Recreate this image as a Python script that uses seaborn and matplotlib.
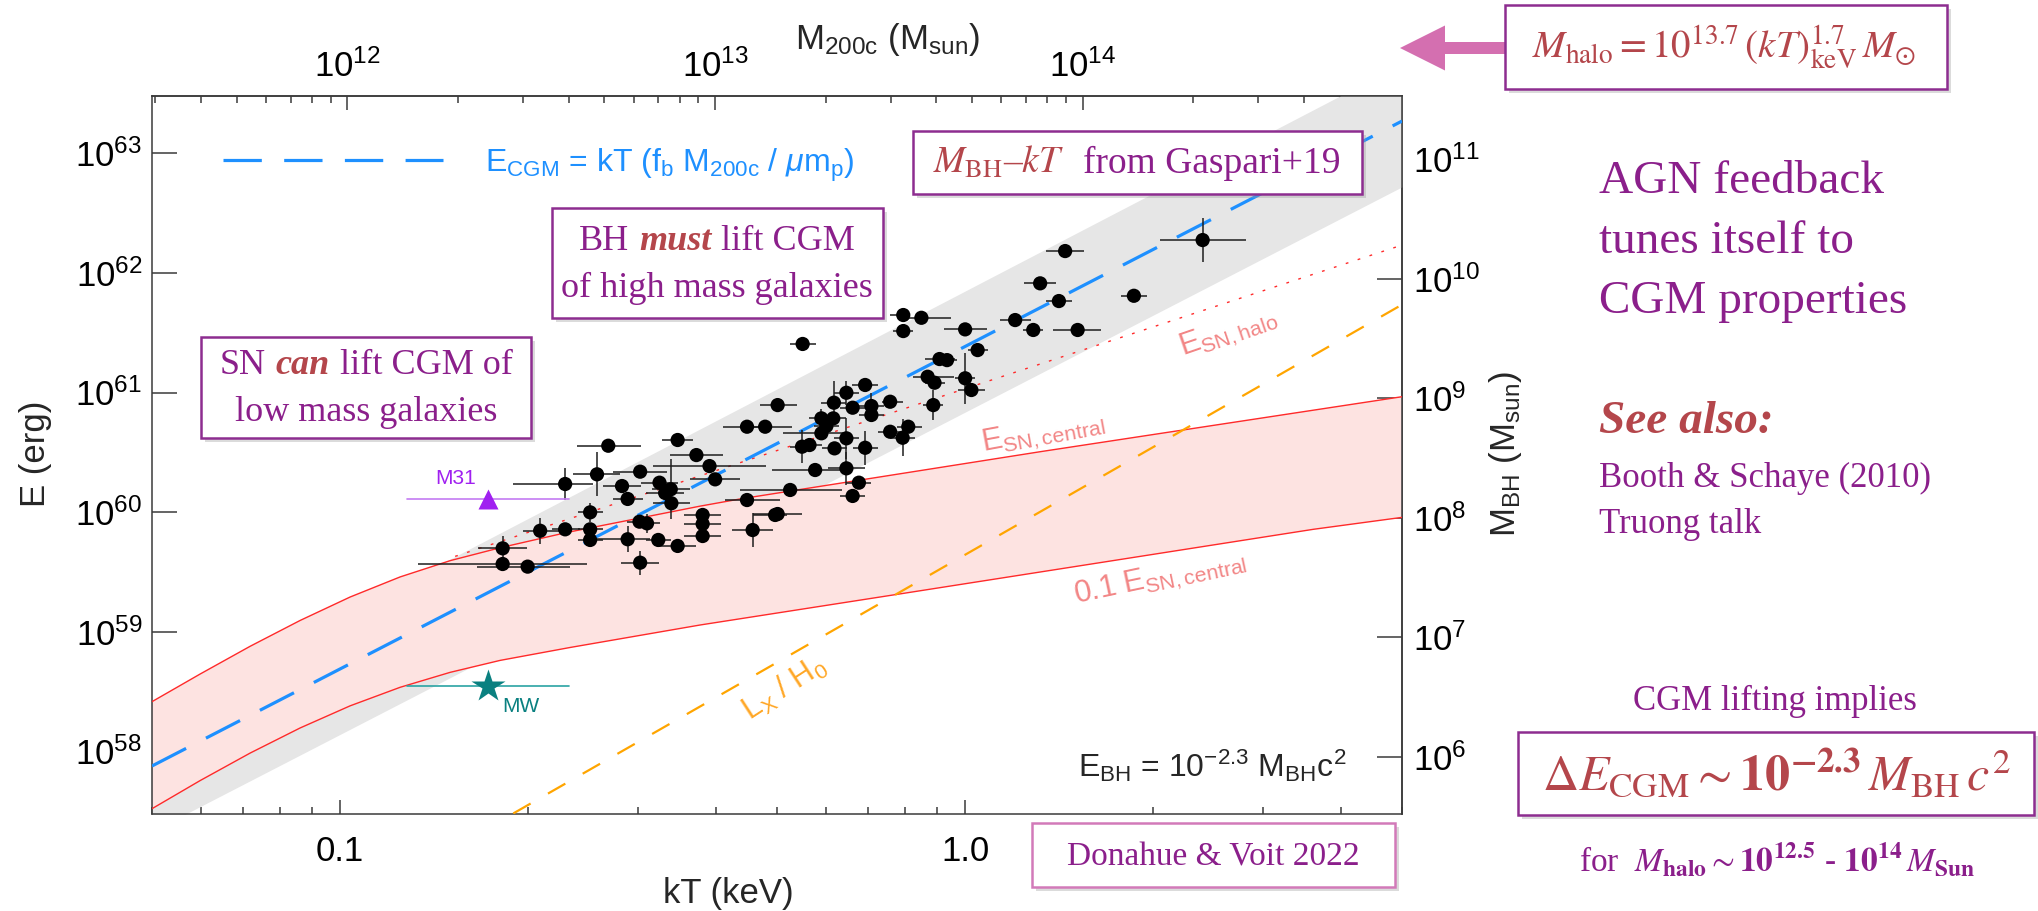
import numpy as np
import pandas as pd
import matplotlib
matplotlib.use("Agg")
import matplotlib.pyplot as plt
import seaborn as sns
from matplotlib import ticker
from matplotlib.patches import Rectangle, FancyArrow
from matplotlib.transforms import IdentityTransform

# ---------------- values ----------------
# groups / clusters: log10 kT [keV] and log10 E [erg]
log_kt = [0.380, 0.160, 0.120, 0.150, 0.270, 0.080, 0.109, 0.180, 0.000, 0.020,
          -0.099, -0.070, -0.099, -0.260, -0.041, -0.029, -0.060, -0.049, 0.000, 0.010,
          -0.051, -0.160, -0.190, -0.210, -0.180, -0.150, -0.150, -0.120, -0.300, -0.349,
          -0.320, -0.230, -0.211, -0.222, -0.230, -0.120, -0.091, -0.100, -0.190, -0.261,
          -0.249, -0.209, -0.160, -0.240, -0.190, -0.170, -0.180, -0.280, -0.349, -0.300,
          -0.340, -0.304, -0.420, -0.420, -0.420, -0.400, -0.409, -0.430, -0.460, -0.571,
          -0.520, -0.489, -0.471, -0.480, -0.470, -0.549, -0.589, -0.640, -0.540, -0.600,
          -0.521, -0.509, -0.540, -0.491, -0.460, -0.680, -0.640, -0.600, -0.600, -0.740,
          -0.740, -0.700, -0.520]
log_e = [62.275, 62.183, 61.913, 61.765, 61.809, 61.606, 61.523, 61.523, 61.528, 61.355,
         61.648, 61.625, 61.514, 61.406, 61.280, 61.271, 61.132, 61.082, 61.119, 61.021,
         60.895, 61.063, 60.998, 60.915, 60.873, 60.887, 60.812, 60.923, 60.895, 60.714,
         60.714, 60.784, 60.784, 60.720, 60.659, 60.672, 60.714, 60.622, 60.617, 60.547,
         60.561, 60.533, 60.538, 60.352, 60.366, 60.246, 60.135, 60.185, 60.101, 59.984,
         59.850, 59.976, 59.976, 59.901, 59.800, 60.274, 60.385, 60.477, 60.603, 60.555,
         60.338, 60.246, 60.191, 60.160, 60.074, 60.218, 60.316, 60.235, 60.110, 59.998,
         59.920, 59.906, 59.773, 59.767, 59.717, 59.844, 59.856, 59.856, 59.767, 59.697,
         59.566, 59.544, 59.577]
# error bars (dex)
kt_err_lo = [0.068, 0.030, 0.026, 0.021, 0.021, 0.025, 0.016, 0.040, 0.034, 0.016,
             0.021, 0.022, 0.016, 0.021, 0.024, 0.016, 0.024, 0.016, 0.016, 0.021,
             0.016, 0.021, 0.020, 0.020, 0.020, 0.020, 0.020, 0.013, 0.028, 0.038,
             0.024, 0.020, 0.020, 0.020, 0.061, 0.020, 0.018, 0.020, 0.020, 0.020,
             0.020, 0.020, 0.020, 0.069, 0.030, 0.020, 0.020, 0.080, 0.035, 0.040,
             0.033, 0.035, 0.030, 0.030, 0.030, 0.040, 0.090, 0.042, 0.025, 0.050,
             0.043, 0.030, 0.030, 0.030, 0.030, 0.030, 0.038, 0.083, 0.024, 0.020,
             0.020, 0.020, 0.049, 0.020, 0.030, 0.027, 0.021, 0.020, 0.020, 0.040,
             0.136, 0.081, 0.030]
kt_err_hi = [0.070, 0.030, 0.026, 0.021, 0.021, 0.025, 0.016, 0.038, 0.035, 0.016,
             0.011, 0.048, 0.016, 0.021, 0.024, 0.016, 0.042, 0.016, 0.016, 0.022,
             0.016, 0.021, 0.020, 0.020, 0.020, 0.020, 0.020, 0.021, 0.031, 0.032,
             0.043, 0.020, 0.020, 0.020, 0.042, 0.020, 0.022, 0.020, 0.020, 0.020,
             0.020, 0.020, 0.020, 0.040, 0.030, 0.020, 0.020, 0.083, 0.053, 0.039,
             0.033, 0.019, 0.030, 0.030, 0.030, 0.040, 0.090, 0.043, 0.025, 0.052,
             0.043, 0.030, 0.030, 0.030, 0.030, 0.030, 0.037, 0.045, 0.024, 0.020,
             0.020, 0.020, 0.036, 0.020, 0.030, 0.043, 0.024, 0.020, 0.020, 0.039,
             0.135, 0.068, 0.030]
e_err = [0.185, 0.030, 0.030, 0.030, 0.030, 0.030, 0.030, 0.030, 0.030, 0.030,
         0.050, 0.030, 0.030, 0.030, 0.030, 0.030, 0.030, 0.030, 0.215, 0.050,
         0.125, 0.030, 0.100, 0.180, 0.050, 0.110, 0.050, 0.030, 0.030, 0.030,
         0.030, 0.080, 0.050, 0.050, 0.050, 0.050, 0.050, 0.155, 0.170, 0.140,
         0.050, 0.050, 0.140, 0.050, 0.140, 0.050, 0.050, 0.030, 0.030, 0.030,
         0.140, 0.030, 0.050, 0.050, 0.050, 0.030, 0.030, 0.030, 0.030, 0.030,
         0.030, 0.050, 0.250, 0.050, 0.050, 0.050, 0.185, 0.130, 0.030, 0.080,
         0.050, 0.080, 0.110, 0.050, 0.050, 0.110, 0.050, 0.050, 0.050, 0.100,
         0.030, 0.030, 0.100]

# M31 and Milky Way
m31_log_kt, m31_log_e = -0.763, 60.11
mw_log_kt, mw_log_e = -0.763, 58.55
local_kt_range = [-0.893, -0.634]

# E_CGM = kT fb M200c / mu mp (blue dashes)
cgm_log_kt = [-1.301, 0.699]
cgm_log_e = [57.877, 63.27]
# Gaspari+19 M_BH-kT band (grey)
band_log_kt = [-1.301, 0.699]
band_lo = [57.33, 62.72]
band_hi = [58.31, 63.75]
# E_SN,central and 0.1 E_SN,central (red)
sn_log_kt = [-1.301, -1.224, -1.144, -1.064, -0.984, -0.904, -0.824, -0.744, -0.637, -0.424, -0.36, 0.12, 0.699]
sn_log_e = [58.415, 58.646, 58.878, 59.094, 59.29, 59.458, 59.594, 59.702, 59.83, 60.05, 60.11, 60.505, 60.965]
sn01_log_kt = [-1.301, -1.224, -1.144, -1.064, -0.984, -0.904, -0.824, -0.744, -0.632, -0.424, -0.098, 0.557, 0.699]
sn01_log_e = [57.52, 57.755, 57.985, 58.195, 58.38, 58.535, 58.66, 58.76, 58.868, 59.056, 59.321, 59.856, 59.956]
# E_SN,halo (red dots)
halo_log_kt = [-0.816, 0.699]
halo_log_e = [59.63, 62.233]
# Lx / H0 (orange)
lx_log_kt = [-0.723, 0.699]
lx_log_e = [57.48, 61.735]

# axis conversions quoted in the figure
MHALO_NORM = 13.68      # log M200c at kT = 1 keV
MHALO_SLOPE = 1.7
EBH_NORM = 51.952       # log (10^-2.3 Msun c^2) in erg

PURPLE = "#8b1f8b"
BROWN = "#b4464b"
FRAME = "#8d2d90"
PINK = "#f28686"
SERIF = ["Liberation Serif", "DejaVu Serif"]

# ---------------- style ----------------
sns.set_theme(style="white")
plt.rcParams.update({
    "font.family": ["Liberation Sans", "DejaVu Sans"],
    "mathtext.fontset": "custom",
    "mathtext.rm": "Liberation Sans",
    "mathtext.it": "Liberation Sans:italic",
    "mathtext.bf": "Liberation Sans:bold",
    "axes.edgecolor": "#3a3a3a",
    "axes.linewidth": 1.1,
    "xtick.color": "#3a3a3a",
    "ytick.color": "#3a3a3a",
    "xtick.labelcolor": "black",
    "ytick.labelcolor": "black",
})

W, H = 2038, 911
fig = plt.figure(figsize=(W / 100, H / 100), dpi=100)
ax = fig.add_axes([152 / W, 1 - 813.8 / H, 1250 / W, (813.8 - 96.3) / H])
ax.set_xscale("log")
ax.set_yscale("log")
ax.set_xlim(0.05, 5.0)
ax.set_ylim(3e57, 3e63)


def tenp(v):
    return np.power(10.0, np.asarray(v, dtype=float))


# bands
ax.fill_between(tenp(band_log_kt), tenp(band_lo), tenp(band_hi), color="#e6e6e6", lw=0, zorder=1)
ax.fill(np.r_[tenp(sn_log_kt), tenp(sn01_log_kt)[::-1]],
        np.r_[tenp(sn_log_e), tenp(sn01_log_e)[::-1]],
        color="#fde3e1", lw=0, zorder=2)

# model lines
ax.plot(tenp(sn_log_kt), tenp(sn_log_e), color="#ff2a2a", lw=1.0, zorder=3)
ax.plot(tenp(sn01_log_kt), tenp(sn01_log_e), color="#ff2a2a", lw=1.0, zorder=3)
ax.plot(tenp(halo_log_kt), tenp(halo_log_e), color="#ff2a2a", lw=1.0, dashes=(2, 7), zorder=3)
ax.plot(tenp(lx_log_kt), tenp(lx_log_e), color="#ffa500", lw=1.6, dashes=(9, 9), zorder=3)
cgm_line, = ax.plot(tenp(cgm_log_kt), tenp(cgm_log_e), color="#1e90ff", lw=2.3, dashes=(12, 7), zorder=4)

# data points
df = pd.DataFrame({"kT": tenp(log_kt), "E": tenp(log_e)})
lkt = np.asarray(log_kt)
le = np.asarray(log_e)
xerr = [df["kT"] - tenp(lkt - np.asarray(kt_err_lo)), tenp(lkt + np.asarray(kt_err_hi)) - df["kT"]]
yerr = [df["E"] - tenp(le - np.asarray(e_err)), tenp(le + np.asarray(e_err)) - df["E"]]
ax.errorbar(df["kT"], df["E"], xerr=xerr, yerr=yerr, fmt="none", ecolor="#1e1e1e",
            elinewidth=1.1, capsize=0, zorder=5)
sns.scatterplot(data=df, x="kT", y="E", ax=ax, color="black", s=105, edgecolor="none",
                linewidth=0, zorder=6, legend=False)
ax.set_xlabel("")
ax.set_ylabel("")

# M31 / MW
ax.plot(tenp(local_kt_range), tenp([m31_log_e, m31_log_e]), color="#c47cf2", lw=1.2, zorder=5)
ax.plot(tenp(m31_log_kt), tenp(m31_log_e), marker="^", ms=15, color="#a020f0", mec="none", zorder=6)
ax.plot(tenp(local_kt_range), tenp([mw_log_e, mw_log_e]), color="#2aa3a3", lw=1.2, zorder=5)
ax.plot(tenp(mw_log_kt), tenp(mw_log_e), marker="*", ms=25, color="#0a8080", mec="none", zorder=6)

# legend for E_CGM
leg = ax.legend([cgm_line], [r"E$_{\rm CGM}$ = kT (f$_{\rm b}$ M$_{\rm 200c}$ / $\mu$m$_{\rm p}$)"],
                loc="center left", bbox_to_anchor=(223 / W, 1 - 165 / H),
                bbox_transform=fig.transFigure, frameon=False, fontsize=23,
                handlelength=6.9, handletextpad=1.3, borderpad=0, borderaxespad=0,
                labelcolor="#1e90ff")

# ---------------- axes & ticks ----------------
ax.xaxis.set_major_locator(ticker.FixedLocator([0.1, 1.0]))
ax.xaxis.set_major_formatter(ticker.FixedFormatter(["0.1", "1.0"]))
ax.xaxis.set_minor_locator(ticker.LogLocator(base=10, subs=np.arange(2, 10)))
ax.xaxis.set_minor_formatter(ticker.NullFormatter())
ax.yaxis.set_major_locator(ticker.LogLocator(base=10, numticks=20))
ax.yaxis.set_minor_locator(ticker.NullLocator())
ax.tick_params(axis="x", which="major", direction="in", length=10, width=1.1, pad=15,
               labelsize=25, bottom=True, top=False)
ax.tick_params(axis="x", which="minor", direction="in", length=5, width=1.1, bottom=True, top=False)
ax.tick_params(axis="y", which="major", direction="in", length=18, width=1.1, pad=7,
               labelsize=25, left=True, right=False)


def kt_to_mhalo(kt):
    return np.power(10.0, MHALO_NORM) * np.power(np.clip(kt, 1e-30, None), MHALO_SLOPE)


def mhalo_to_kt(m):
    return np.power(np.clip(m, 1e-30, None) / np.power(10.0, MHALO_NORM), 1 / MHALO_SLOPE)


def e_to_mbh(e):
    return np.asarray(e) / np.power(10.0, EBH_NORM)


def mbh_to_e(m):
    return np.asarray(m) * np.power(10.0, EBH_NORM)


top = ax.secondary_xaxis("top", functions=(kt_to_mhalo, mhalo_to_kt))
top.tick_params(which="major", direction="in", length=10, width=1.1, labelsize=25, pad=9)
top.tick_params(which="minor", direction="in", length=5, width=1.1)

right = ax.secondary_yaxis("right", functions=(e_to_mbh, mbh_to_e))
right.yaxis.set_minor_locator(ticker.NullLocator())
right.tick_params(which="major", direction="in", length=18, width=1.1, labelsize=25, pad=8)


# ---------------- text helpers (pixel positions, y from top) ----------------
def put(px, py, s, **kw):
    return fig.text(px / W, 1 - py / H, s, **kw)


def frame(x0, y0, x1, y1, ec=FRAME):
    fig.add_artist(Rectangle(((x0 + 4) / W, 1 - (y1 + 4) / H), (x1 - x0) / W, (y1 - y0) / H,
                             transform=fig.transFigure, fc="#9a9a9a", ec="none", alpha=0.35, zorder=9))
    fig.add_artist(Rectangle((x0 / W, 1 - y1 / H), (x1 - x0) / W, (y1 - y0) / H,
                             transform=fig.transFigure, fc="white", ec=ec, lw=1.8, zorder=10))


renderer = fig.canvas.get_renderer()


def line_of_parts(cx, base_y, parts, size, gap=0.27):
    arts, widths = [], []
    for s, kw in parts:
        t = fig.text(0, 0, s, fontsize=size, va="baseline", ha="left", zorder=12, **kw)
        arts.append(t)
        widths.append(t.get_window_extent(renderer).width)
    space = gap * size * 100 / 72
    x = cx - (sum(widths) + space * (len(parts) - 1)) / 2
    for t, w in zip(arts, widths):
        t.set_position((x / W, 1 - base_y / H))
        x += w + space


purple = dict(family=SERIF, color=PURPLE)
accent = dict(family=SERIF, color=BROWN, style="italic", weight="bold")

# axis titles
put(35, 454, "E (erg)", rotation=90, ha="center", va="center", fontsize=25)
put(728, 893, "kT (keV)", ha="center", va="center", fontsize=25)
put(888, 40, r"M$_{\rm 200c}$ (M$_{\rm sun}$)", ha="center", va="center", fontsize=25)
put(1505, 454, r"M$_{\rm BH}$ (M$_{\rm sun}$)", rotation=90, ha="center", va="center", fontsize=25)

# curve labels
put(1228, 333, r"E$_{\rm SN,halo}$", rotation=19, rotation_mode="anchor", ha="center", va="center",
    fontsize=22, color=PINK)
put(1043, 433, r"E$_{\rm SN,central}$", rotation=10.5, rotation_mode="anchor", ha="center", va="center",
    fontsize=22, color=PINK)
put(1160, 578, r"0.1 E$_{\rm SN,central}$", rotation=12, rotation_mode="anchor", ha="center", va="center",
    fontsize=22, color=PINK)
put(784, 688, r"L$_{\rm X}$ / H$_{0}$", rotation=33, rotation_mode="anchor", ha="center", va="center",
    fontsize=22, color="#ffa726")
put(1347, 777, "E$_{\\rm BH}$ = 10$^{\u22122.3}$ M$_{\\rm BH}$c$^{2}$", ha="right", va="baseline", fontsize=23)
put(456, 478, "M31", ha="center", va="center", fontsize=15, color="#a020f0")
put(521, 706, "MW", ha="center", va="center", fontsize=15, color="#0a8080")

# boxed notes
frame(913, 131, 1362, 194)
line_of_parts(1137, 173, [(r"$M_{\rm BH}$–$kT$", dict(family=SERIF, color=BROWN, math_fontfamily="stix")),
                          ("from Gaspari+19", purple)], 27, gap=0.5)

frame(552, 208, 883, 318)
line_of_parts(717, 250, [("BH", purple), ("must", accent), ("lift CGM", purple)], 26)
put(717, 297, "of high mass galaxies", ha="center", va="baseline", fontsize=26, zorder=12, **purple)

frame(201, 337, 531, 438)
line_of_parts(366, 374, [("SN", purple), ("can", accent), ("lift CGM of", purple)], 26)
put(366, 421, "low mass galaxies", ha="center", va="baseline", fontsize=26, zorder=12, **purple)

frame(1032, 823, 1395, 887, ec="#d27ab9")
put(1213, 865, "Donahue & Voit 2022", ha="center", va="baseline", fontsize=24, zorder=12, **purple)

frame(1505, 5, 1947, 89)
put(1724, 58, r"$M_{\rm halo} = 10^{13.7}\,(kT)^{1.7}_{\rm keV}\,M_{\odot}$", ha="center", va="baseline",
    fontsize=28, zorder=12, color=BROWN, math_fontfamily="stix", family=SERIF)
fig.add_artist(FancyArrow(1505, H - 48, -105, 0, width=12, head_width=45, head_length=45,
                          length_includes_head=True, color="#d46fb0", lw=0,
                          transform=IdentityTransform(), zorder=8))

# right-hand commentary
for i, s in enumerate(["AGN feedback", "tunes itself to", "CGM properties"]):
    put(1599, 193 + 60 * i, s, ha="left", va="baseline", fontsize=34, **purple)
put(1599, 433, "See also:", ha="left", va="baseline", fontsize=34, **accent)
put(1599, 487, "Booth & Schaye (2010)", ha="left", va="baseline", fontsize=25, **purple)
put(1599, 533, "Truong talk", ha="left", va="baseline", fontsize=25, **purple)
put(1775, 710, "CGM lifting implies", ha="center", va="baseline", fontsize=25, **purple)
frame(1518, 732, 2034, 815)
put(1776, 790, r"$\Delta E_{\rm CGM} \sim \mathbf{10^{-2.3}}\,M_{\rm BH}\,c^2$", ha="center", va="baseline",
    fontsize=36, zorder=12, color=BROWN, math_fontfamily="stix", family=SERIF)
put(1777, 871, r"for  $M_{\mathbf{halo}} \sim \mathbf{10^{12.5}}$ - $\mathbf{10^{14}}\,M_{\mathbf{Sun}}$",
    ha="center", va="baseline", fontsize=24, color=PURPLE, math_fontfamily="stix", family=SERIF)

fig.savefig("out.png", dpi=100)
